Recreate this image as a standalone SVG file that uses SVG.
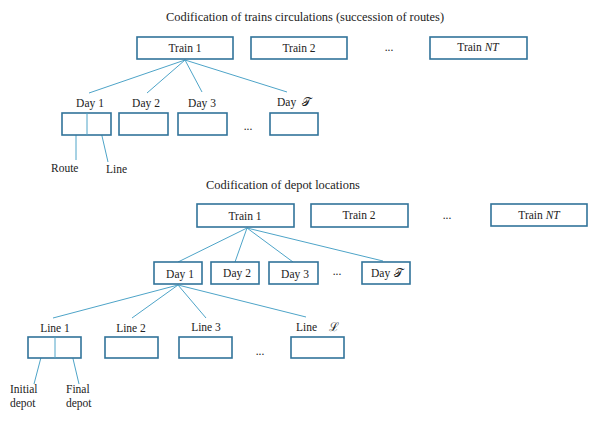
<svg xmlns="http://www.w3.org/2000/svg" width="598" height="421" viewBox="0 0 598 421">
<style>
text{font-family:"Liberation Serif","Times New Roman",serif;font-size:11.5px;fill:#222;}
.title{font-size:12.4px;}
.box{fill:#fff;stroke:#31739a;stroke-width:1.6;}
.c{stroke:#4ea4c8;stroke-width:1;fill:none;}
.dv{stroke:#4ea4c8;stroke-width:1;}
.m{text-anchor:middle;}
.s{font-family:"DejaVu Serif","Liberation Serif",serif;font-size:12px;}
</style>
<rect width="598" height="421" fill="#fff"/>
<text class="title m" x="305" y="21">Codification of trains circulations (succession of routes)</text>
<g id="connectors">
<line class="c" x1="185" y1="60" x2="89" y2="93"/>
<line class="c" x1="185" y1="60" x2="147" y2="93"/>
<line class="c" x1="185" y1="60" x2="202" y2="92"/>
<line class="c" x1="185" y1="60" x2="287" y2="92"/>
<line class="c" x1="76" y1="122" x2="76" y2="160"/>
<line class="c" x1="99" y1="123" x2="108" y2="162"/>
<line class="c" x1="247" y1="228" x2="178" y2="262"/>
<line class="c" x1="247" y1="228" x2="235" y2="262"/>
<line class="c" x1="247" y1="228" x2="293" y2="262"/>
<line class="c" x1="247" y1="228" x2="383" y2="261"/>
<line class="c" x1="178" y1="285" x2="53" y2="318"/>
<line class="c" x1="178" y1="285" x2="132" y2="318"/>
<line class="c" x1="178" y1="285" x2="206" y2="318"/>
<line class="c" x1="178" y1="285" x2="306" y2="317"/>
<line class="c" x1="44" y1="346" x2="34" y2="384"/>
<line class="c" x1="70" y1="346" x2="79" y2="384"/>
</g>
<g id="t1-train1"><rect class="box" x="137" y="37" width="96" height="22"/><text class="m" x="185" y="52">Train 1</text></g>
<g id="t1-train2"><rect class="box" x="251" y="37" width="96" height="22"/><text class="m" x="299" y="52">Train 2</text></g>
<text class="m" x="389" y="51">...</text>
<g id="t1-trainNT"><rect class="box" x="430" y="37" width="97" height="22"/><text class="m" x="478" y="51">Train <tspan font-style="italic">NT</tspan></text></g>
<g id="t1-day1"><text class="m" x="90" y="107">Day 1</text><rect class="box" x="62" y="113" width="49" height="22"/><line class="dv" x1="87" y1="113" x2="87" y2="135"/></g>
<g id="t1-day2"><text class="m" x="146" y="107">Day 2</text><rect class="box" x="119" y="113" width="49" height="22"/></g>
<g id="t1-day3"><text class="m" x="202" y="107">Day 3</text><rect class="box" x="178" y="113" width="49" height="22"/></g>
<text class="m" x="248" y="130">...</text>
<g id="t1-dayT"><text x="277" y="106">Day</text><text class="s" x="302" y="106">𝒯</text><rect class="box" x="270" y="113" width="48" height="22"/></g>
<text x="51" y="172">Route</text>
<text x="106" y="173">Line</text>
<text class="title m" x="283" y="189">Codification of depot locations</text>
<g id="t2-train1"><rect class="box" x="197" y="204" width="97" height="23"/><text class="m" x="245" y="220">Train 1</text></g>
<g id="t2-train2"><rect class="box" x="311" y="204" width="97" height="23"/><text class="m" x="359" y="219">Train 2</text></g>
<text class="m" x="447" y="219">...</text>
<g id="t2-trainNT"><rect class="box" x="491" y="204" width="96" height="22"/><text class="m" x="539" y="219">Train <tspan font-style="italic">NT</tspan></text></g>
<g id="t2-day1"><rect class="box" x="154" y="262" width="48" height="22"/><text class="m" x="180" y="278">Day 1</text></g>
<g id="t2-day2"><rect class="box" x="211" y="262" width="48" height="22"/><text class="m" x="237" y="277">Day 2</text></g>
<g id="t2-day3"><rect class="box" x="269" y="262" width="49" height="22"/><text class="m" x="295" y="278">Day 3</text></g>
<text class="m" x="337" y="275">...</text>
<g id="t2-dayT"><rect class="box" x="362" y="262" width="48" height="22"/><text x="371" y="277">Day</text><text class="s" x="394" y="277">𝒯</text></g>
<g id="t2-line1"><text class="m" x="55" y="332">Line 1</text><rect class="box" x="28" y="337" width="53" height="21"/><line class="dv" x1="55" y1="337" x2="55" y2="358"/></g>
<g id="t2-line2"><text class="m" x="131" y="332">Line 2</text><rect class="box" x="105" y="337" width="53" height="21"/></g>
<g id="t2-line3"><text class="m" x="206" y="331">Line 3</text><rect class="box" x="179" y="337" width="53" height="21"/></g>
<text class="m" x="260" y="355">...</text>
<g id="t2-lineL"><text x="296" y="331">Line</text><text class="s" x="329" y="331">ℒ</text><rect class="box" x="291" y="337" width="53" height="21"/></g>
<text x="10" y="393">Initial</text>
<text x="10" y="407">depot</text>
<text x="66" y="393">Final</text>
<text x="66" y="407">depot</text>
</svg>
